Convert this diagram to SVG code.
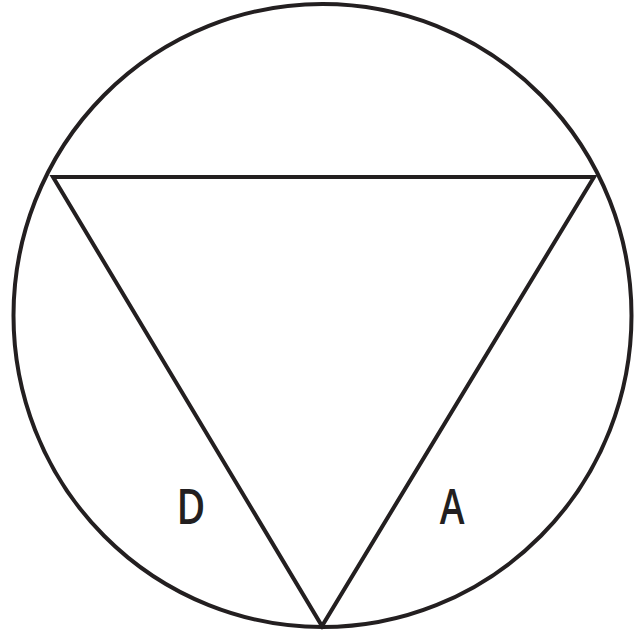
<svg xmlns="http://www.w3.org/2000/svg" width="636" height="631" viewBox="0 0 636 631">
  <style>
    .ln { fill: none; stroke: #231f20; stroke-width: 4; stroke-linejoin: miter; stroke-miterlimit: 10; }
    .lbl { font-family: "Open Sans", "Liberation Sans", sans-serif; font-weight: 600; font-size: 48px; fill: #231f20; text-anchor: middle; }
  </style>
  <rect width="636" height="631" fill="#ffffff"/>
  <g id="circle">
    <ellipse class="ln" cx="322.5" cy="315.5" rx="309" ry="311.5"/>
  </g>
  <g id="triangle">
    <polygon class="ln" points="53,177 594,177 322,626"/>
  </g>
  <g id="label-D">
    <text class="lbl" transform="translate(191,524) scale(0.82,1)">D</text>
  </g>
  <g id="label-A">
    <text class="lbl" transform="translate(452,524) scale(0.78,1)">A</text>
  </g>
</svg>
